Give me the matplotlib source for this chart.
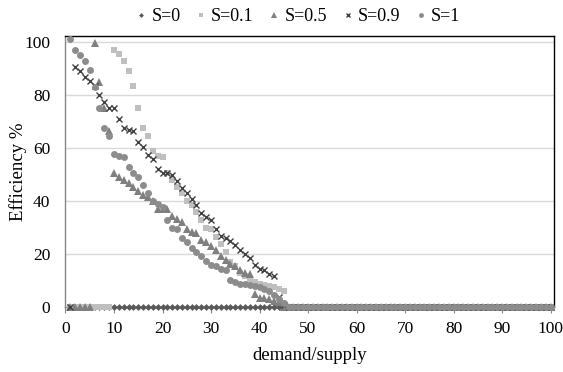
import matplotlib
matplotlib.use("Agg")
import matplotlib.pyplot as plt

plt.rcParams['font.family'] = ['Liberation Serif', 'DejaVu Serif']

x = list(range(1, 101))

s0 = [0] * 100

s01_head = [0, 0, 0, 0, 0, 0, 0, 0, 0, 97, 95.5, 93, 89, 83.5, 75, 67.5, 64.5, 59, 57, 56.5,
            50.5, 48, 45.5, 43, 40, 38.5, 36, 33, 30, 29.5, 26.5, 24, 21, 17, 15.5, 13, 12, 10, 9.5, 9,
            8.5, 8, 7.5, 7, 6]
s01 = s01_head + [0] * 55

s05_head = [0, 0, 0, 0, 0, 99.5, 85, 75, 66.5, 50.5, 49, 48, 47, 45.5, 44, 42.5, 41.5, 40, 37, 37,
            37, 34.5, 33.5, 32, 29.5, 28.5, 28, 25.5, 24.5, 23, 21.5, 19.5, 18, 16.5, 15.5, 14, 13, 12.5, 5, 3.7,
            3.4, 3, 2.5, 2, 0]
s05 = s05_head + [0] * 55

s09_head = [0, 90.5, 89, 87, 85.5, 83.5, 80, 77.5, 75, 75, 71, 67.5, 67, 66.5, 62.5, 60.5, 57.5, 56, 52, 50.5,
            50.5, 50, 47.5, 45, 43, 41, 38.5, 35.5, 34, 33, 29.5, 27, 26, 25, 23.5, 21.5, 20, 18.5, 16, 14.5,
            14, 12.5, 12, 4, 1]
s09 = s09_head + [0] * 55

s1_head = [101, 97, 95, 93, 89.5, 83, 75, 67.5, 64.5, 58, 57, 56.5, 53, 50.5, 49, 46, 43, 40, 39, 38,
           33, 30, 29.5, 26, 24.5, 22.5, 21, 19.5, 17.5, 16, 15.5, 14.5, 14, 10.5, 9.5, 9, 9, 8.5, 8, 7.5,
           7, 6, 4.5, 3, 1.5]
s1 = s1_head + [0] * 55

labels = ['S=0', 'S=0.1', 'S=0.5', 'S=0.9', 'S=1']
xticks = [0, 10, 20, 30, 40, 50, 60, 70, 80, 90, 100]
yticks = [0, 20, 40, 60, 80, 100]

W, H = 563, 372
fig = plt.figure(figsize=(W / 100, H / 100), dpi=100)
ax = fig.add_axes([0.1163, 0.1737, 0.8677, 0.7296])

styles = [
    dict(marker='D', color='#595959', ms=3.5, mew=0),
    dict(marker='s', color='#bfbfbf', ms=5.0, mew=0),
    dict(marker='^', color='#7f7f7f', ms=5.5, mew=0),
    dict(marker='x', color='#404040', ms=5.0, mew=1.0),
    dict(marker='o', color='#8c8c8c', ms=5.0, mew=0),
]
series = [s0, s01, s05, s09, s1]
for ys, lab, st in zip(series, labels, styles):
    ax.plot(x, ys, linestyle='none', marker=st['marker'], color=st['color'],
            markersize=st['ms'], markeredgewidth=st['mew'], label=lab, clip_on=False, zorder=3)

ax.set_xlim(0, 100.7)
ax.set_ylim(0, 102.3)
ax.set_xticks(xticks)
ax.set_yticks(yticks)
ax.yaxis.grid(True, color='#d9d9d9', linewidth=1.0)
ax.set_axisbelow(True)

for side in ['left', 'bottom']:
    ax.spines[side].set_color('#868686')
    ax.spines[side].set_linewidth(1.0)
for side in ['top', 'right']:
    ax.spines[side].set_color('#000000')
    ax.spines[side].set_linewidth(1.0)

ax.tick_params(axis='x', direction='out', length=4, color='#868686', labelsize=12.5, pad=6)
ax.tick_params(axis='y', length=0, labelsize=12.5, pad=11)

fig.text(18 / W, 1 - 172 / H, 'Efficiency %', rotation=90, ha='center', va='center', fontsize=13.5)
fig.text(310 / W, 1 - 355 / H, 'demand/supply', ha='center', va='center', fontsize=13.5)

fig.legend(loc='center', bbox_to_anchor=(0.527, 0.955), ncol=5, frameon=False,
           fontsize=13, handletextpad=0.1, columnspacing=0.7, markerscale=0.7,
           handlelength=0.9)

fig.savefig('out.png', dpi=100)
